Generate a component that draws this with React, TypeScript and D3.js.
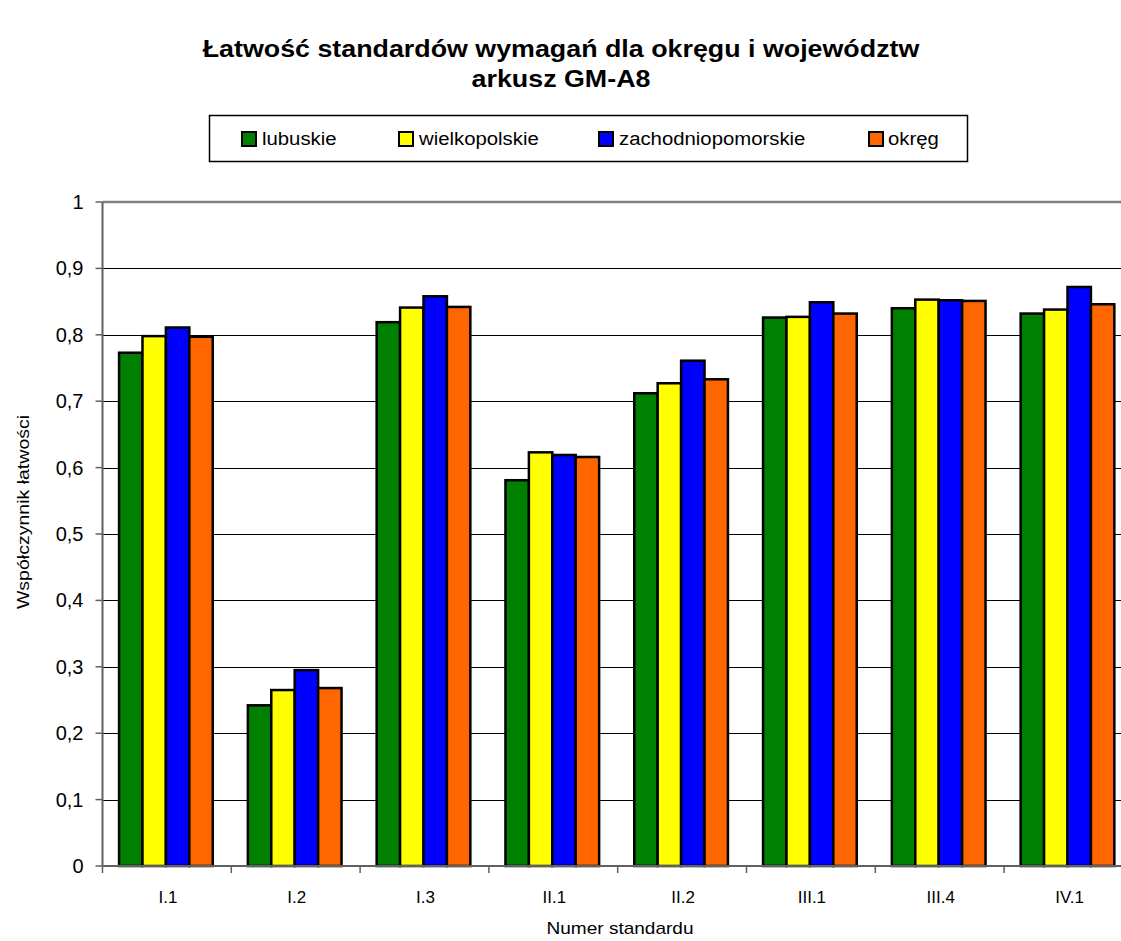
import React from "react";
import * as d3 from "d3";

const categories = ["I.1", "I.2", "I.3", "II.1", "II.2", "III.1", "III.4", "IV.1"];
const seriesNames = ["lubuskie", "wielkopolskie", "zachodniopomorskie", "okręg"];
const seriesColors = ["#008000", "#FFFF00", "#0000FF", "#FF6600"];
const lubuskie = [0.773, 0.242, 0.819, 0.581, 0.712, 0.826, 0.840, 0.832];
const wielkopolskie = [0.798, 0.265, 0.841, 0.623, 0.727, 0.827, 0.853, 0.838];
const zachodniopomorskie = [0.811, 0.295, 0.858, 0.619, 0.761, 0.849, 0.852, 0.872];
const okreg = [0.797, 0.268, 0.842, 0.616, 0.733, 0.832, 0.851, 0.846];
const yTicks = [0, 0.1, 0.2, 0.3, 0.4, 0.5, 0.6, 0.7, 0.8, 0.9, 1];

const allSeries = [lubuskie, wielkopolskie, zachodniopomorskie, okreg];

function SText(props: { x: number; y: number; sx: number; size: number; anchor?: string; weight?: string; children: React.ReactNode }) {
  const { x, y, sx, size, anchor, weight, children } = props;
  return (
    <text transform={`translate(${x},${y}) scale(${sx},1)`} textAnchor={anchor || "start"} fontSize={size} fontWeight={weight || "normal"}>
      {children}
    </text>
  );
}

export default function App() {
  const W = 1121, H = 941;
  const left = 102.5, top = 202, bottom = 866;
  const step = 128.8;
  const x = d3.scaleBand<string>().domain(categories).range([left, left + step * categories.length]).padding(0);
  const y = d3.scaleLinear().domain([0, 1]).range([bottom, top]);
  const bw = x.step() / 5.5;
  const inner = d3.scaleBand<number>().domain([0, 1, 2, 3]).range([0.75 * bw - 1, 4.75 * bw - 1]).padding(0);
  const font = "'Liberation Sans', Arial, sans-serif";
  const fmt = (v: number) => (v === 0 || v === 1 ? String(v) : v.toFixed(1).replace(".", ","));

  const legendItems = [
    { sx: 242, tx: 262 },
    { sx: 399, tx: 419 },
    { sx: 599, tx: 619 },
    { sx: 869, tx: 888 },
  ];

  return (
    <svg width={W} height={H} style={{ position: "absolute", left: 0, top: 0, background: "#fff" }} fontFamily={font}>
      <rect x={0} y={0} width={W} height={H} fill="#fff" />
      <SText x={561} y={57} sx={1.118} size={24} anchor="middle" weight="bold">Łatwość standardów wymagań dla okręgu i województw</SText>
      <SText x={561} y={87} sx={1.118} size={24} anchor="middle" weight="bold">arkusz GM-A8</SText>

      <rect x={209.5} y={115.5} width={758} height={46} fill="#fff" stroke="#000" strokeWidth={1.5} />
      {legendItems.map((it, i) => (
        <g key={i}>
          <rect x={it.sx} y={132} width={14} height={14} fill={seriesColors[i]} stroke="#000" strokeWidth={2} />
          <SText x={it.tx} y={145} sx={1.13} size={18}>{seriesNames[i]}</SText>
        </g>
      ))}

      {yTicks.slice(1, -1).map((t) => (
        <line key={t} x1={left} x2={W} y1={Math.round(y(t)) + 0.5} y2={Math.round(y(t)) + 0.5} stroke="#000" strokeWidth={1} />
      ))}
      <line x1={left} x2={W} y1={y(1)} y2={y(1)} stroke="#808080" strokeWidth={2.5} />

      {allSeries.map((vals, si) =>
        vals.map((v, ci) => (
          <rect
            key={si + "-" + ci}
            x={(x(categories[ci]) as number) + (inner(si) as number)}
            y={y(v)}
            width={inner.bandwidth()}
            height={y(0) - y(v)}
            fill={seriesColors[si]}
            stroke="#000"
            strokeWidth={2.5}
          />
        ))
      )}

      <line x1={left} x2={left} y1={top} y2={bottom} stroke="#606060" strokeWidth={2} />
      <line x1={left} x2={W} y1={bottom} y2={bottom} stroke="#606060" strokeWidth={2} />
      {yTicks.map((t) => (
        <g key={t}>
          <line x1={left - 7} x2={left} y1={y(t)} y2={y(t)} stroke="#606060" strokeWidth={1.5} />
          <text x={left - 19} y={y(t) + 7} textAnchor="end" fontSize={20}>{fmt(t)}</text>
        </g>
      ))}
      {d3.range(categories.length + 1).map((i) => (
        <line key={i} x1={left + i * x.step()} x2={left + i * x.step()} y1={bottom} y2={bottom + 7} stroke="#606060" strokeWidth={1.5} />
      ))}
      {categories.map((c) => (
        <text key={c} x={(x(c) as number) + x.bandwidth() / 2 + 1} y={903} textAnchor="middle" fontSize={17}>{c}</text>
      ))}
      <SText x={620} y={934} sx={1.12} size={17} anchor="middle">Numer standardu</SText>
      <g transform="translate(29,512) rotate(-90)">
        <SText x={0} y={0} sx={1.15} size={17} anchor="middle">Współczynnik łatwości</SText>
      </g>
    </svg>
  );
}
